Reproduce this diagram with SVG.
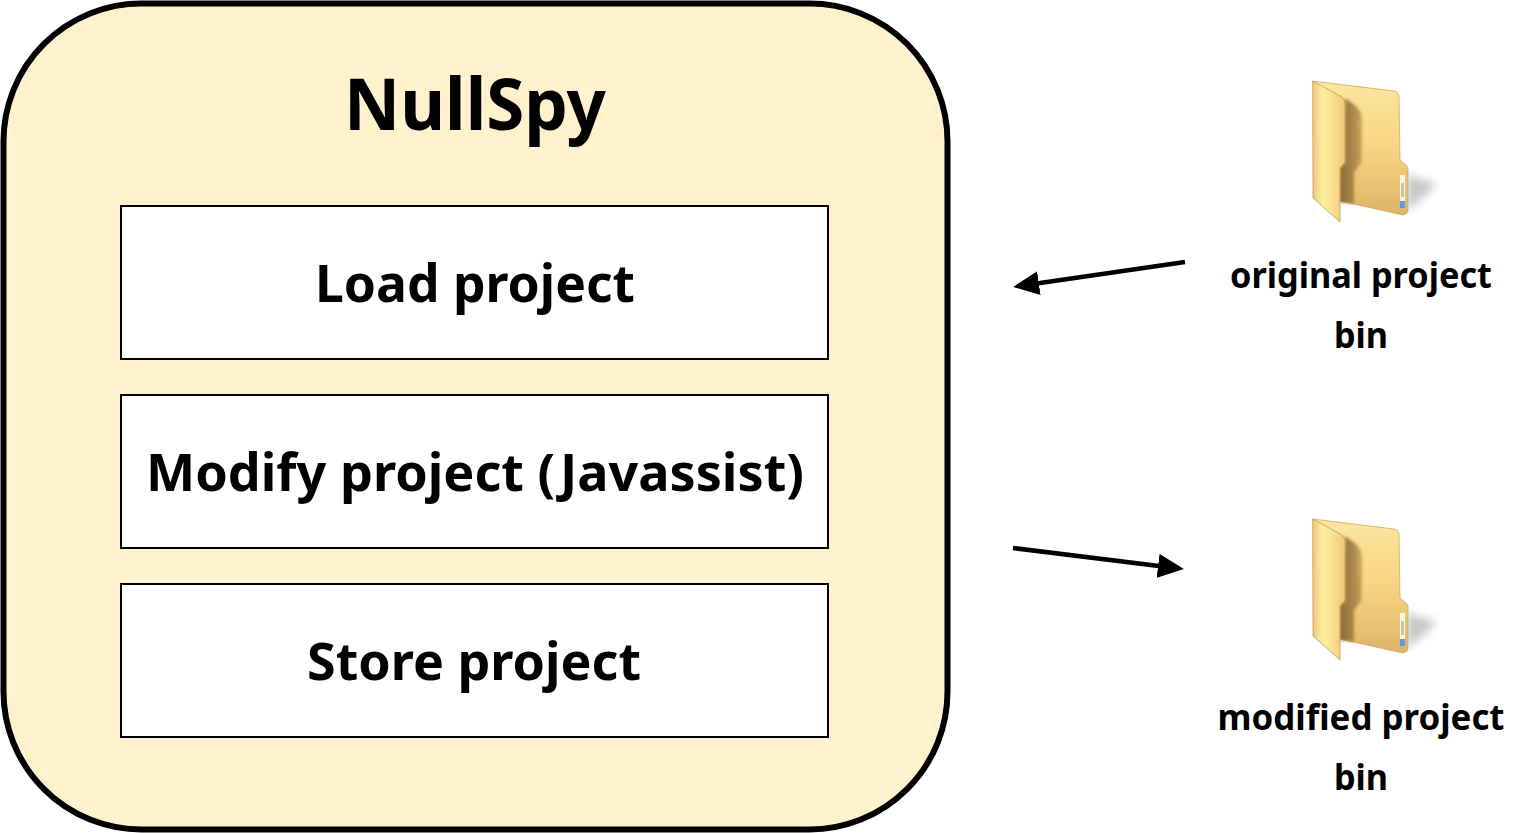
<svg xmlns="http://www.w3.org/2000/svg" xmlns:xlink="http://www.w3.org/1999/xlink" width="1531" height="833" viewBox="0 0 1531 833">
<style>
.t{font-family:"Noto Sans","Open Sans","Liberation Sans",sans-serif;font-weight:700;fill:#000;text-anchor:middle}
.box{fill:#fff;stroke:#000;stroke-width:2}
.big{font-size:52px}
.small{font-size:35px}
.arrow{stroke:#000;stroke-width:4.500;fill:none;marker-end:url(#ah)}
</style>
<defs>
<marker id="ah" markerUnits="userSpaceOnUse" markerWidth="26" markerHeight="24" refX="11" refY="12" orient="auto" viewBox="0 0 26 24"><path d="M0 0L26 12L0 24Z" fill="#000"/></marker>
<linearGradient id="back" x1="0" y1="0" x2="0" y2="1"><stop offset="0" stop-color="#fde5a0"/><stop offset=".45" stop-color="#f8d684"/><stop offset="1" stop-color="#deb56a"/></linearGradient>
<linearGradient id="flap" x1="0" y1="0" x2="1" y2="0"><stop offset="0" stop-color="#ebc878"/><stop offset=".15" stop-color="#f6d98a"/><stop offset=".3" stop-color="#fdf09e"/><stop offset=".6" stop-color="#fbe391"/><stop offset="1" stop-color="#ecc574"/></linearGradient>
<linearGradient id="sh" x1="0" y1="0" x2="1" y2="0"><stop offset="0" stop-color="#7a5c2e"/><stop offset=".7" stop-color="#a58244"/><stop offset="1" stop-color="#c9a25c"/></linearGradient>
<filter id="b2" x="-30%" y="-30%" width="160%" height="160%"><feGaussianBlur stdDeviation="1.500"/></filter>
<filter id="b4" x="-50%" y="-50%" width="200%" height="200%"><feGaussianBlur stdDeviation="4"/></filter>
<g id="folder">
<path d="M1407 175L1437 184L1408 211Z" fill="#999" opacity=".55" filter="url(#b4)"/>
<path d="M1312.7 81L1394 91Q1399 92 1399 97L1400 160L1406 165Q1408 166 1408 169V210Q1408 214 1403 215L1340 201Z" fill="url(#back)" stroke="#c79f55" stroke-width=".7"/>
<path d="M1345 98L1356 106Q1362 112 1362 120V163L1354 172V204L1340 202V168L1345 163Z" fill="url(#sh)" opacity=".85" filter="url(#b2)"/>
<path d="M1312.7 81L1342 97Q1345 99 1345 103V162L1340 168V222L1313 198Z" fill="url(#flap)" stroke="#b98f4a" stroke-width=".7"/>
<rect x="1400" y="175" width="5" height="33" fill="#f4f4ea"/>
<rect x="1401" y="183" width="3" height="14" fill="#c4c4b4"/>
<rect x="1400" y="201" width="5" height="7" fill="#5c9de0"/>
</g>
</defs>
<g id="nullspy">
<rect x="3.500" y="3.500" width="944" height="826" rx="138" ry="138" fill="#fff2cc" stroke="#000" stroke-width="6"/>
<text class="t" x="475" y="130" font-size="72" textLength="262" lengthAdjust="spacingAndGlyphs">NullSpy</text>
</g>
<g id="load">
<rect class="box" x="121" y="206" width="707" height="153"/>
<text class="t big" x="475" y="302" textLength="320" lengthAdjust="spacingAndGlyphs">Load project</text>
</g>
<g id="modify">
<rect class="box" x="121" y="395" width="707" height="153"/>
<text class="t big" x="475" y="491" textLength="658" lengthAdjust="spacingAndGlyphs">Modify project (Javassist)</text>
</g>
<g id="store">
<rect class="box" x="121" y="584" width="707" height="153"/>
<text class="t big" x="474" y="680" textLength="334" lengthAdjust="spacingAndGlyphs">Store project</text>
</g>
<g id="original">
<use xlink:href="#folder" href="#folder"/>
<text class="t small" x="1361" y="288" textLength="262" lengthAdjust="spacingAndGlyphs">original project</text>
<text class="t small" x="1361" y="348" textLength="54" lengthAdjust="spacingAndGlyphs">bin</text>
</g>
<g id="modified">
<use xlink:href="#folder" href="#folder" y="438"/>
<text class="t small" x="1361" y="730" textLength="287" lengthAdjust="spacingAndGlyphs">modified project</text>
<text class="t small" x="1361" y="790" textLength="54" lengthAdjust="spacingAndGlyphs">bin</text>
</g>
<g id="connectors">
<line class="arrow" x1="1185" y1="262" x2="1028" y2="284.800"/>
<line class="arrow" x1="1013" y1="548" x2="1169" y2="567.200"/>
</g>
</svg>
